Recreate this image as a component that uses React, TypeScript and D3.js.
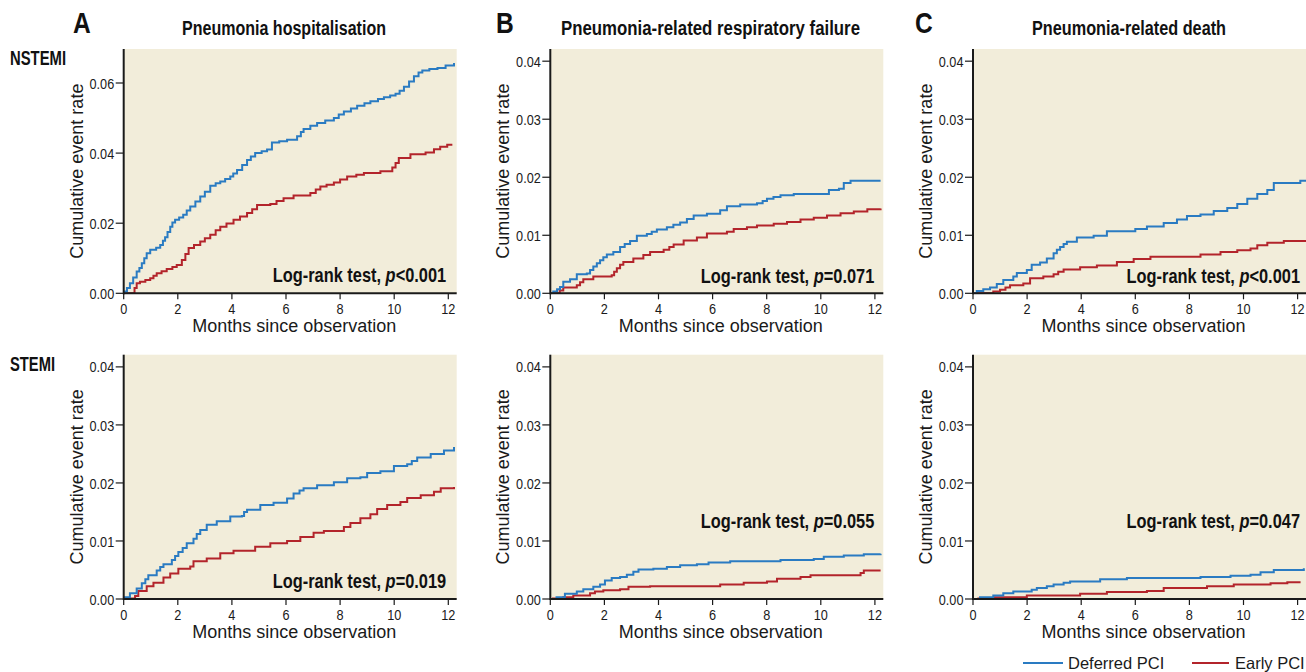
import React from "react";
import * as d3 from "d3";

// ---------- DATA (months, cumulative event rate) ----------
const xTicks = [0, 2, 4, 6, 8, 10, 12];
const yTicksWide = [0, 0.02, 0.04, 0.06];
const yTicksNarrow = [0, 0.01, 0.02, 0.03, 0.04];

const columnTitles = ["Pneumonia hospitalisation", "Pneumonia-related respiratory failure", "Pneumonia-related death"];
const columnLetters = ["A", "B", "C"];
const rowLabels = ["NSTEMI", "STEMI"];
const seriesNames = ["Deferred PCI", "Early PCI"];
const pValues = ["<0.001", "=0.071", "<0.001", "=0.019", "=0.055", "=0.047"];

const hospNstemiDeferred: [number, number][] = [
  [0, 0], [0.05, 0.0005], [0.12, 0.0015], [0.23, 0.0029], [0.35, 0.0045], [0.48, 0.0062], [0.58, 0.0072], [0.67, 0.0086], [0.76, 0.01], [0.85, 0.0114],
  [0.98, 0.0124], [1.2, 0.013], [1.35, 0.0138], [1.45, 0.015], [1.53, 0.016], [1.62, 0.0175], [1.72, 0.019], [1.8, 0.0202], [1.9, 0.021],
  [2.05, 0.0216], [2.2, 0.0224], [2.33, 0.0236], [2.46, 0.0248], [2.65, 0.0262], [2.83, 0.0276], [3.0, 0.029], [3.2, 0.0307], [3.4, 0.0314],
  [3.57, 0.0319], [3.75, 0.0326], [3.94, 0.0333], [4.05, 0.0342], [4.19, 0.0352], [4.38, 0.0366], [4.56, 0.038], [4.7, 0.039], [4.86, 0.04],
  [5.1, 0.0405], [5.3, 0.041], [5.48, 0.043], [5.75, 0.0434], [6.04, 0.0438], [6.41, 0.0448], [6.55, 0.046], [6.65, 0.0469], [6.9, 0.0478],
  [7.15, 0.0486], [7.45, 0.0493], [7.77, 0.05], [7.95, 0.051], [8.14, 0.0519], [8.4, 0.0527], [8.63, 0.0535], [8.9, 0.0542], [9.12, 0.0548],
  [9.4, 0.0554], [9.62, 0.0559], [9.85, 0.0564], [10.05, 0.0569], [10.2, 0.0578], [10.36, 0.0589], [10.55, 0.0604], [10.73, 0.0619],
  [10.9, 0.063], [11.04, 0.0636], [11.3, 0.064], [11.6, 0.0643], [11.9, 0.065], [12.21, 0.0657]
];
const hospNstemiEarly: [number, number][] = [
  [0, 0], [0.3, 0], [0.4, 0.0015], [0.48, 0.0029], [0.6, 0.0033], [0.8, 0.0038], [0.98, 0.0043], [1.1, 0.005], [1.22, 0.0057], [1.4, 0.0063],
  [1.59, 0.0069], [1.8, 0.0075], [1.96, 0.0081], [2.15, 0.0095], [2.28, 0.0112], [2.4, 0.0129], [2.6, 0.0138], [2.83, 0.0148], [3.0, 0.0157],
  [3.2, 0.0167], [3.4, 0.018], [3.57, 0.019], [3.8, 0.0199], [4.06, 0.021], [4.3, 0.0219], [4.56, 0.0229], [4.75, 0.024], [4.93, 0.0252],
  [5.42, 0.0255], [5.65, 0.0263], [5.91, 0.0271], [6.28, 0.0279], [6.9, 0.0286], [7.1, 0.0296], [7.27, 0.0305], [7.5, 0.031], [7.77, 0.0316],
  [8.0, 0.0325], [8.26, 0.0333], [8.6, 0.0338], [8.88, 0.0343], [9.49, 0.0348], [9.93, 0.0359], [10.05, 0.0372], [10.17, 0.0386],
  [10.6, 0.0397], [11.16, 0.0402], [11.47, 0.0411], [11.7, 0.0418], [11.96, 0.0424], [12.15, 0.0424]
];
const respNstemiDeferred: [number, number][] = [
  [0, 0], [0.11, 0.0003], [0.25, 0.0007], [0.36, 0.0011], [0.48, 0.002], [0.73, 0.0024], [0.98, 0.0033], [1.35, 0.0034], [1.47, 0.004],
  [1.59, 0.0046], [1.72, 0.0052], [1.84, 0.0057], [1.96, 0.0062], [2.09, 0.0067], [2.33, 0.0071], [2.58, 0.008], [2.75, 0.0085],
  [2.95, 0.009], [3.2, 0.0099], [3.57, 0.0102], [3.75, 0.0106], [3.94, 0.011], [4.31, 0.0114], [4.55, 0.0118], [4.8, 0.0122], [5.05, 0.0128],
  [5.3, 0.0134], [5.79, 0.0137], [6.28, 0.0143], [6.53, 0.015], [7.02, 0.0153], [7.64, 0.0155], [7.85, 0.0159], [8.01, 0.0163],
  [8.25, 0.0166], [8.51, 0.0169], [9.0, 0.0171], [9.99, 0.0171], [10.3, 0.0178], [10.67, 0.018], [10.85, 0.019], [11.1, 0.0194], [12.21, 0.0194]
];
const respNstemiEarly: [number, number][] = [
  [0, 0], [0.23, 0], [0.35, 0.0005], [0.48, 0.001], [0.98, 0.0014], [1.1, 0.0019], [1.22, 0.0024], [1.59, 0.0029], [2.27, 0.0031],
  [2.36, 0.0037], [2.46, 0.0043], [2.58, 0.0049], [2.7, 0.0054], [3.07, 0.006], [3.44, 0.0066], [3.69, 0.0071], [4.19, 0.0075],
  [4.4, 0.008], [4.56, 0.0084], [4.93, 0.0091], [5.42, 0.0096], [5.79, 0.0103], [6.53, 0.0106], [6.78, 0.0111], [7.27, 0.0114],
  [7.64, 0.0117], [8.26, 0.012], [8.75, 0.0123], [9.25, 0.0127], [9.74, 0.013], [10.23, 0.0134], [10.73, 0.0138], [11.22, 0.0141],
  [11.72, 0.0145], [12.21, 0.0146]
];
const deathNstemiDeferred: [number, number][] = [
  [0, 0], [0.14, 0.0004], [0.38, 0.0007], [0.63, 0.001], [0.88, 0.0016], [1.12, 0.0023], [1.49, 0.0029], [1.62, 0.0035], [1.99, 0.004],
  [2.17, 0.0049], [2.48, 0.0053], [2.73, 0.006], [2.98, 0.0069], [3.1, 0.0075], [3.22, 0.008], [3.35, 0.0085], [3.47, 0.0089],
  [3.84, 0.0096], [4.46, 0.0099], [4.95, 0.0107], [6.0, 0.0111], [6.43, 0.0115], [7.05, 0.0121], [7.54, 0.0127], [7.91, 0.0133],
  [8.41, 0.0136], [8.9, 0.0142], [9.4, 0.0147], [9.77, 0.0154], [10.14, 0.0163], [10.51, 0.0171], [10.88, 0.0178], [11.12, 0.019],
  [11.74, 0.019], [12.1, 0.0194], [12.33, 0.0195]
];
const deathNstemiEarly: [number, number][] = [
  [0, 0], [0.5, 0], [0.75, 0.0003], [1.0, 0.0006], [1.2, 0.001], [1.37, 0.0014], [1.86, 0.0017], [2.11, 0.0026], [2.6, 0.0029],
  [2.98, 0.0033], [3.15, 0.0037], [3.35, 0.0041], [3.96, 0.0045], [4.58, 0.0048], [5.32, 0.0054], [5.94, 0.0059], [6.56, 0.0063],
  [8.16, 0.0063], [8.41, 0.0067], [9.15, 0.0071], [9.77, 0.0074], [10.26, 0.0077], [10.51, 0.0083], [10.88, 0.0087], [11.49, 0.009],
  [12.33, 0.009]
];
const hospStemiDeferred: [number, number][] = [
  [0, 0], [0.05, 0.0003], [0.23, 0.001], [0.48, 0.0018], [0.67, 0.0027], [0.8, 0.0034], [0.91, 0.0041], [1.22, 0.0049], [1.35, 0.0055],
  [1.47, 0.006], [1.78, 0.0067], [1.9, 0.0074], [2.02, 0.0081], [2.18, 0.0088], [2.33, 0.0096], [2.58, 0.0104], [2.7, 0.0112],
  [2.83, 0.0119], [3.07, 0.0128], [3.44, 0.0134], [3.94, 0.0142], [4.37, 0.0143], [4.45, 0.015], [4.56, 0.0154], [5.05, 0.0162],
  [5.54, 0.0166], [6.04, 0.0173], [6.28, 0.0182], [6.5, 0.0187], [6.65, 0.0191], [7.15, 0.0196], [7.77, 0.0201], [8.26, 0.0208],
  [8.75, 0.021], [9.0, 0.0217], [9.49, 0.022], [9.99, 0.0229], [10.48, 0.0232], [10.65, 0.0238], [10.85, 0.0244], [11.35, 0.025],
  [11.84, 0.0256], [12.21, 0.0262]
];
const hospStemiEarly: [number, number][] = [
  [0, 0], [0.11, 0.0001], [0.42, 0.0005], [0.54, 0.0014], [0.85, 0.0022], [1.1, 0.0028], [1.47, 0.0037], [1.72, 0.0044], [2.02, 0.0052],
  [2.46, 0.0056], [2.58, 0.0065], [3.07, 0.007], [3.57, 0.0079], [4.06, 0.0083], [4.86, 0.009], [5.42, 0.0096], [6.04, 0.01],
  [6.53, 0.0107], [7.02, 0.0114], [7.4, 0.0117], [8.14, 0.0124], [8.38, 0.0131], [8.75, 0.0139], [9.12, 0.0146], [9.37, 0.0155],
  [9.74, 0.0162], [10.23, 0.0167], [10.48, 0.0174], [10.98, 0.0179], [11.47, 0.0185], [11.72, 0.0191], [12.21, 0.0193]
];
const respStemiDeferred: [number, number][] = [
  [0, 0], [0.23, 0.0003], [0.54, 0.0009], [0.98, 0.0013], [1.22, 0.0017], [1.59, 0.0021], [1.84, 0.0025], [2.02, 0.0032], [2.27, 0.0036],
  [2.58, 0.0038], [2.83, 0.0042], [3.07, 0.0047], [3.26, 0.0051], [3.81, 0.0052], [4.31, 0.0055], [4.8, 0.0058], [5.42, 0.006],
  [5.85, 0.0063], [6.65, 0.0065], [8.51, 0.0067], [9.74, 0.0069], [10.11, 0.0073], [10.85, 0.0075], [11.59, 0.0077], [12.21, 0.0078]
];
const respStemiEarly: [number, number][] = [
  [0, 0], [0.1, 0.0001], [0.48, 0.0003], [0.85, 0.0006], [1.47, 0.001], [1.65, 0.0013], [1.96, 0.0015], [2.58, 0.0017], [2.89, 0.0021],
  [3.69, 0.0022], [4.8, 0.0022], [6.28, 0.0025], [7.15, 0.0028], [8.01, 0.003], [8.38, 0.0035], [9.25, 0.0038], [9.62, 0.0041],
  [11.47, 0.0045], [11.59, 0.0049], [12.21, 0.0049]
];
const deathStemiDeferred: [number, number][] = [
  [0, 0], [0.26, 0.0003], [0.75, 0.0006], [1.12, 0.001], [1.49, 0.0013], [2.17, 0.0016], [2.36, 0.0019], [2.73, 0.0022], [2.98, 0.0025],
  [3.35, 0.0028], [3.59, 0.003], [4.7, 0.0034], [5.69, 0.0036], [8.41, 0.0038], [9.52, 0.004], [10.26, 0.0042], [10.63, 0.0046],
  [11.12, 0.005], [12.23, 0.0053]
];
const deathStemiEarly: [number, number][] = [
  [0, 0], [0.2, 0.0001], [0.81, 0.0003], [1.99, 0.0006], [3.96, 0.0009], [4.95, 0.0012], [6.43, 0.0014], [7.05, 0.0019],
  [8.65, 0.0022], [9.64, 0.0025], [11.0, 0.0027], [11.62, 0.0029], [12.11, 0.0029]
];

// ---------- LAYOUT ----------
const W = 1306, H = 672;
const colX = [123.7, 550.3, 973];
const labelRight = [322.5, 324, 327];
const titleX = [284, 710.5, 1129];
const titleW = [204, 299, 194];
const letterX = [73, 496, 915];
const rowTop = [49, 354.7];
const rowBottom = [293.3, 599];
const plotW = 333;
const pxPerMonth = 27.05;
const BG = "#f2edda";
const BLUE = "#2a7bc2";
const RED = "#b3242b";
const INK = "#1a1a1a";
const SANS = "'Liberation Sans', Arial, Helvetica, sans-serif";
const SQUEEZE = 0.82;

type Cfg = { row: number; col: number; def: [number, number][]; early: [number, number][]; yMax: number; yTicks: number[]; p: string; labelRaise: number };

const panels: Cfg[] = [
  { row: 0, col: 0, def: hospNstemiDeferred, early: hospNstemiEarly, yMax: 0.0697, yTicks: yTicksWide, p: pValues[0], labelRaise: 11 },
  { row: 0, col: 1, def: respNstemiDeferred, early: respNstemiEarly, yMax: 0.0421, yTicks: yTicksNarrow, p: pValues[1], labelRaise: 10.5 },
  { row: 0, col: 2, def: deathNstemiDeferred, early: deathNstemiEarly, yMax: 0.0421, yTicks: yTicksNarrow, p: pValues[2], labelRaise: 10.5 },
  { row: 1, col: 0, def: hospStemiDeferred, early: hospStemiEarly, yMax: 0.0421, yTicks: yTicksNarrow, p: pValues[3], labelRaise: 11 },
  { row: 1, col: 1, def: respStemiDeferred, early: respStemiEarly, yMax: 0.0421, yTicks: yTicksNarrow, p: pValues[4], labelRaise: 71.5 },
  { row: 1, col: 2, def: deathStemiDeferred, early: deathStemiEarly, yMax: 0.0421, yTicks: yTicksNarrow, p: pValues[5], labelRaise: 71.5 },
];

const fmt = d3.format(".2f");

function Narrow({ x, y, anchor = "start", size, bold = false, children, dy, fill = INK }: any) {
  return (
    <text transform={`translate(${x},${y}) scale(${SQUEEZE},1)`} dy={dy} textAnchor={anchor} fontFamily={SANS}
      fontWeight={bold ? "bold" : "normal"} fontSize={size} fill={fill}>{children}</text>
  );
}

function Panel({ cfg, idx }: { cfg: Cfg; idx: number }) {
  const x0 = colX[cfg.col];
  const top = rowTop[cfg.row];
  const bottom = rowBottom[cfg.row];
  const x = d3.scaleLinear().domain([0, plotW / pxPerMonth]).range([x0, x0 + plotW]);
  const y = d3.scaleLinear().domain([0, cfg.yMax]).range([bottom, top]);
  const line = d3.line<[number, number]>().x(d => x(d[0])).y(d => y(d[1])).curve(d3.curveStepAfter);
  const clipId = `clip-${idx}`;
  const midY = (top + bottom) / 2;
  return (
    <g>
      <defs>
        <clipPath id={clipId}>
          <rect x={x0} y={top} width={plotW} height={bottom - top} />
        </clipPath>
      </defs>
      <rect x={x0} y={top} width={plotW} height={bottom - top} fill={BG} />
      <g clipPath={`url(#${clipId})`}>
        <path d={line(cfg.early) || ""} fill="none" stroke={RED} strokeWidth={2} />
        <path d={line(cfg.def) || ""} fill="none" stroke={BLUE} strokeWidth={2} />
      </g>
      <line x1={x0} x2={x0 + plotW} y1={bottom} y2={bottom} stroke={INK} strokeWidth={2} />
      <line x1={x0} x2={x0} y1={top} y2={bottom + 1} stroke={INK} strokeWidth={2} />
      {cfg.yTicks.map(t => (
        <g key={"y" + t}>
          <line x1={x0 - 8} x2={x0} y1={y(t)} y2={y(t)} stroke={INK} strokeWidth={1.2} />
          <Narrow x={x0 - 9.5} y={y(t)} dy="0.36em" anchor="end" size={15.5}>{fmt(t)}</Narrow>
        </g>
      ))}
      {xTicks.map(t => (
        <g key={"x" + t}>
          <line x1={x(t)} x2={x(t)} y1={bottom} y2={bottom + 6} stroke={INK} strokeWidth={1.2} />
          <Narrow x={x(t)} y={bottom + 20.5} anchor="middle" size={15.5}>{t}</Narrow>
        </g>
      ))}
      <text x={x0 + 170.5} y={bottom + 39} textAnchor="middle" fontFamily={SANS} fontSize={18} fill={INK}>Months since observation</text>
      <text transform={`translate(${x0 - 41},${midY}) rotate(-90)`} textAnchor="middle" fontFamily={SANS} fontSize={18} fill={INK}>Cumulative event rate</text>
      <Narrow x={x0 + labelRight[cfg.col]} y={bottom - cfg.labelRaise} anchor="end" size={20} bold fill="#111">
        Log-rank test, <tspan fontStyle="italic">p</tspan>{cfg.p}
      </Narrow>
    </g>
  );
}

export default function App() {
  return (
    <svg width={W} height={H} style={{ position: "absolute", left: 0, top: 0, display: "block", background: "#fff" }}>
      {columnLetters.map((l, i) => (
        <Narrow key={l} x={letterX[i]} y={33} size={30} bold fill="#111">{l}</Narrow>
      ))}
      {columnTitles.map((t, i) => (
        <text key={t} x={titleX[i]} y={35} textAnchor="middle" fontFamily={SANS} fontWeight="bold" fontSize={19.5} fill="#111"
          textLength={titleW[i]} lengthAdjust="spacingAndGlyphs">{t}</text>
      ))}
      <text x={10} y={65} fontFamily={SANS} fontWeight="bold" fontSize={19.5} fill="#111" textLength={56} lengthAdjust="spacingAndGlyphs">{rowLabels[0]}</text>
      <text x={10} y={370.5} fontFamily={SANS} fontWeight="bold" fontSize={19.5} fill="#111" textLength={45} lengthAdjust="spacingAndGlyphs">{rowLabels[1]}</text>
      {panels.map((p, i) => <Panel key={i} cfg={p} idx={i} />)}
      <line x1={1023} x2={1063} y1={663} y2={663} stroke={BLUE} strokeWidth={2} />
      <text x={1068} y={669} fontFamily={SANS} fontSize={16.5} fill={INK}>{seriesNames[0]}</text>
      <line x1={1192} x2={1229} y1={663} y2={663} stroke={RED} strokeWidth={2} />
      <text x={1235} y={669} fontFamily={SANS} fontSize={16.5} fill={INK}>{seriesNames[1]}</text>
    </svg>
  );
}
